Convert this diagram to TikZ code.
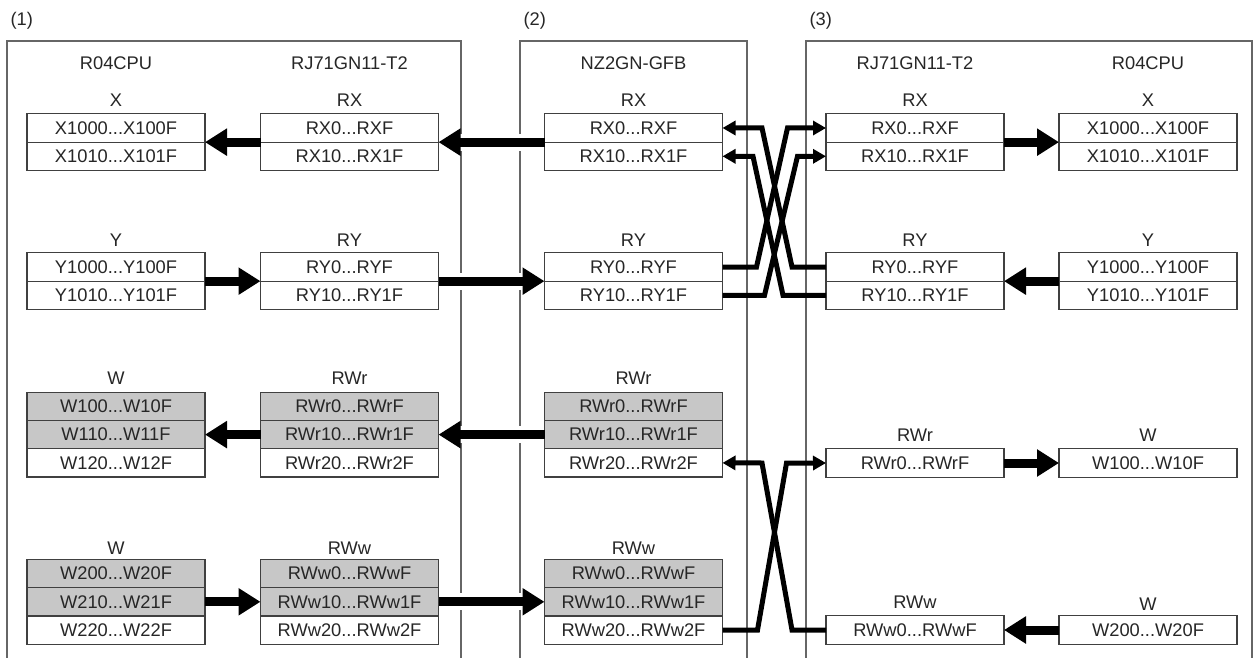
\documentclass[tikz,border=0pt]{standalone}
\usepackage{fontspec}
\setmainfont{Liberation Sans}
\usetikzlibrary{arrows.meta,positioning}

\begin{document}
\begin{tikzpicture}[
  x=1pt, y=-1pt,
  font=\fontsize{18.3pt}{22pt}\selectfont, text=black!85,
  cell/.style={draw=black!75, line width=1.2pt, fill=white, minimum width=178pt, minimum height=28.3pt, inner sep=0pt, outer sep=0pt},
  shd/.style={cell, fill=black!22},
  frm/.style={draw=black!60, line width=1.4pt},
  big/.style={line width=9pt, -{Triangle[length=22pt,width=26pt]},
    preaction={draw=white, line width=17pt, -, shorten <=8pt, shorten >=8pt}},
  thin/.style={line width=5pt, -{Triangle[length=13pt,width=14pt]}}
]
\useasboundingbox (0,0) rectangle (1254,658);

% station frames
\draw[frm] (7,658) |- (461,41) -- (461,658);
\draw[frm] (520,658) |- (747,41) -- (747,658);
\draw[frm] (806,658) |- (1252,41) -- (1252,658);
\node[anchor=west] (n1) at (7,21) {(1)};
\node[anchor=west] (n2) at (520,21) {(2)};
\node[anchor=west] (n3) at (806,21) {(3)};

% module names
\foreach \c/\x/\t in {cpuL/116/R04CPU, gnL/349.5/RJ71GN11-T2, gfb/633.5/NZ2GN-GFB, gnR/915/RJ71GN11-T2, cpuR/1148/R04CPU}
  \node (\c h) at (\x,63) {\t};

% CPU devices
\foreach \c/\x in {cpuL/116, cpuR/1148} {
  \node (\c hx) at (\x,100) {X};
  \node[cell] (\c x1) at (\x,128) {X1000...X100F};
  \node[cell, below=0pt of \c x1] (\c x2) {X1010...X101F};
  \node (\c hy) at (\x,240) {Y};
  \node[cell] (\c y1) at (\x,267) {Y1000...Y100F};
  \node[cell, below=0pt of \c y1] (\c y2) {Y1010...Y101F};
}

% link devices
\foreach \c/\x in {gnL/349.5, gfb/633.5, gnR/915} {
  \node (\c hx) at (\x,100) {RX};
  \node[cell] (\c x1) at (\x,128) {RX0...RXF};
  \node[cell, below=0pt of \c x1] (\c x2) {RX10...RX1F};
  \node (\c hy) at (\x,240) {RY};
  \node[cell] (\c y1) at (\x,267) {RY0...RYF};
  \node[cell, below=0pt of \c y1] (\c y2) {RY10...RY1F};
}
\foreach \c/\x in {gnL/349.5, gfb/633.5} {
  \node (\c hw) at (\x,378) {RWr};
  \node[shd] (\c w1) at (\x,406.3) {RWr0...RWrF};
  \node[shd, below=0pt of \c w1] (\c w2) {RWr10...RWr1F};
  \node[cell, below=0pt of \c w2] (\c w3) {RWr20...RWr2F};
  \node (\c hv) at (\x,548) {RWw};
  \node[shd] (\c v1) at (\x,573.5) {RWw0...RWwF};
  \node[shd, below=0pt of \c v1] (\c v2) {RWw10...RWw1F};
  \node[cell, below=0pt of \c v2] (\c v3) {RWw20...RWw2F};
}

% link registers, station (1)
\node (cpuLhw) at (116,378) {W};
\node[shd] (cpuLw1) at (116,406.3) {W100...W10F};
\node[shd, below=0pt of cpuLw1] (cpuLw2) {W110...W11F};
\node[cell, below=0pt of cpuLw2] (cpuLw3) {W120...W12F};
\node (cpuLhv) at (116,548) {W};
\node[shd] (cpuLv1) at (116,573.5) {W200...W20F};
\node[shd, below=0pt of cpuLv1] (cpuLv2) {W210...W21F};
\node[cell, below=0pt of cpuLv2] (cpuLv3) {W220...W22F};

% link registers, station (3)
\node (gnRhw) at (915,435) {RWr};
\node[cell] (gnRw) at (915,463) {RWr0...RWrF};
\node (gnRhv) at (915,602) {RWw};
\node[cell] (gnRv) at (915,630) {RWw0...RWwF};
\node (cpuRhw) at (1148,435) {W};
\node[cell] (cpuRw) at (1148,463) {W100...W10F};
\node (cpuRhv) at (1148,604) {W};
\node[cell] (cpuRv) at (1148,630) {W200...W20F};

% refresh and link transfer
\draw[big] (gnLx1.south west) -- (cpuLx1.south east);
\draw[big] (gfbx1.south west) -- (gnLx1.south east);
\draw[big] (cpuLy1.south east) -- (gnLy1.south west);
\draw[big] (gnLy1.south east) -- (gfby1.south west);
\draw[big] (gnLw2.west) -- (cpuLw2.east);
\draw[big] (gfbw2.west) -- (gnLw2.east);
\draw[big] (cpuLv2.east) -- (gnLv2.west);
\draw[big] (gnLv2.east) -- (gfbv2.west);
\draw[big] (gnRx1.south east) -- (cpuRx1.south west);
\draw[big] (cpuRy1.south west) -- (gnRy1.south east);
\draw[big] (gnRw.east) -- (cpuRw.west);
\draw[big] (cpuRv.west) -- (gnRv.east);

% crossed links between (2) and (3)
\draw[thin] (gfby1.east) -- ++(34,0) -- ++(31,-139) -- (gnRx1.west);
\draw[thin] (gfby2.east) -- ++(42,0) -- ++(33,-139) -- (gnRx2.west);
\draw[thin] (gnRy1.west) -- ++(-34,0) -- ++(-30,-139) -- (gfbx1.east);
\draw[thin] (gnRy2.west) -- ++(-43,0) -- ++(-30,-139) -- (gfbx2.east);
\draw[thin] (gfbv3.east) -- ++(35,0) -- ++(29,-167) -- (gnRw.west);
\draw[thin] (gnRv.west) -- ++(-34,0) -- ++(-30,-167) -- (gfbw3.east);
\end{tikzpicture}
\end{document}
